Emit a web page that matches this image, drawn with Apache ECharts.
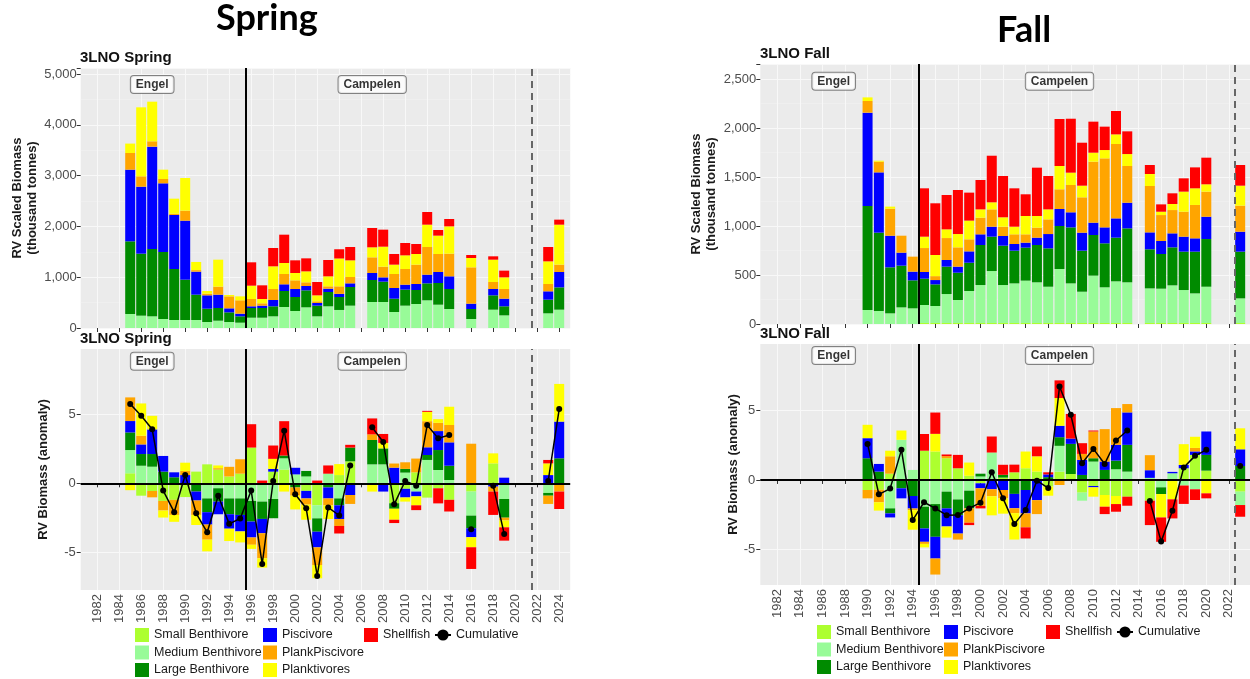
<!DOCTYPE html>
<html>
<head>
<meta charset="utf-8">
<title>3LNO Spring / Fall biomass</title>
<script src="https://cdn.jsdelivr.net/npm/echarts@6/dist/echarts.min.js"></script>
<style>
  html, body { margin: 0; padding: 0; background: #fff; }
  #main { width: 1250px; height: 679px; }
</style>
</head>
<body>
<div id="main"></div>
<script>
// functional groups, in stacking order (from zero outwards)
var groupNames = ['Small Benthivore', 'Medium Benthivore', 'Large Benthivore', 'Piscivore', 'PlankPiscivore', 'Planktivores', 'Shellfish'];
var groupColors = ['#ADFF2F', '#98FB98', '#008B00', '#0000FF', '#FFA500', '#FFFF00', '#FF0000'];
var yearTicks = [1982, 1984, 1986, 1988, 1990, 1992, 1994, 1996, 1998, 2000, 2002, 2004, 2006, 2008, 2010, 2012, 2014, 2016, 2018, 2020, 2022, 2024];
var anomalyTicks = [-5, 0, 5];

// ---- Spring ----
var springYears = [1985, 1986, 1987, 1988, 1989, 1990, 1991, 1992, 1993, 1994, 1995, 1996, 1997, 1998, 1999, 2000, 2001, 2002, 2003, 2004, 2005,
    2007, 2008, 2009, 2010, 2011, 2012, 2013, 2014, 2016, 2018, 2019, 2023, 2024];

// RV scaled biomass (thousand tonnes)
var springSmall = [0, 0, 0, 0, 0, 0, 0, 0, 0, 0, 0, 0, 0, 0, 0, 0, 0, 0, 0, 0, 0, 0, 0, 0, 0, 0, 0, 0, 0, 0, 0, 0, 0, 0];
var springMedium = [276, 243, 230, 177, 157, 157, 157, 118, 144, 118, 105, 203, 203, 230, 413, 335, 407, 230, 427, 355, 440,
    512, 512, 315, 440, 472, 545, 459, 374, 177, 361, 249, 289, 361];
var springLarge = [1430, 1220, 1325, 1319, 1004, 794, 499, 262, 250, 190, 125, 191, 191, 197, 315, 275, 334, 210, 282, 255, 367,
    433, 400, 262, 315, 276, 334, 427, 394, 197, 282, 178, 269, 439];
var springPisc = [1411, 1319, 2015, 1352, 1063, 1162, 453, 263, 262, 79, 52, 33, 46, 124, 132, 158, 86, 52, 65, 62, 72,
    138, 85, 210, 98, 118, 171, 216, 249, 105, 125, 150, 164, 302];
var springPlankPisc = [328, 204, 105, 85, 26, 197, 31, 33, 158, 236, 263, 144, 46, 217, 203, 170, 72, 33, 46, 148, 125,
    308, 210, 276, 308, 381, 544, 355, 446, 715, 138, 191, 144, 145];
var springPlank = [185, 1358, 780, 184, 296, 643, 160, 52, 531, 27, 78, 262, 85, 446, 217, 145, 216, 118, 197, 548, 328,
    197, 394, 184, 269, 210, 440, 361, 538, 184, 439, 229, 446, 787];
var springShell = [0, 0, 0, 0, 0, 0, 0, 0, 0, 0, 0, 460, 269, 361, 557, 249, 256, 263, 322, 182, 262,
    381, 335, 210, 243, 197, 249, 111, 145, 59, 66, 132, 282, 99];

// RV biomass anomaly
var springAnomSmall = [0.73, -0.9, -0.56, -1.28, -1.2, -1.0, 0.85, 1.38, 1.0, 0.5, 0.7, 2.6, 0, 0.85, 1.0, 0, -0.55, -1.6, 0, 0.6, 1.6,
    0, 0, -1.45, -0.4, 0.8, -1.04, -0.36, -1.2, -0.6, 1.45, 0, 0, 0];
var springAnomMedium = [1.69, 1.28, 1.21, 0, 0, 0, 0, -1.1, -0.36, -1.1, -1.1, -1.28, -1.33, -1.14, 0.82, 0.65, 0.5, -0.95, 0.7, -1.1, 0,
    1.38, 1.38, 0, 0.78, -0.6, 1.7, 0.97, 0.24, -1.75, 0, -1.14, -0.7, 0];
var springAnomLarge = [1.28, 0.85, 0.92, 0.85, 0.44, 0, -0.6, -1.0, -0.97, -1.15, -1.2, -1.5, -1.26, -1.4, 0.2, -0.3, 0.4, -0.97, -0.3, -0.5, 1.0,
    1.77, 1.16, -0.4, 0.27, 0, 0.36, 1.45, 1.04, -0.92, 0, -1.36, -0.2, 1.82];
var springAnomPisc = [0.83, 0.7, 1.79, 1.14, 0.36, 0.6, -0.65, -0.9, -0.92, -1.05, -1.2, -1.16, -1.04, 0.2, 0, 0.48, -0.55, -1.14, -0.8, -1.0, -0.85,
    0, -0.6, 1.14, -0.63, -0.35, 0.56, 1.38, 1.7, -0.65, -0.24, 0.41, 0.6, 2.67];
var springAnomPlankPisc = [1.72, 0.63, -0.46, -0.7, -1.1, 0.3, -1.05, -1.1, 0.1, 0.7, 1.05, -0.53, -1.82, 0, 0, -0.6, -0.45, -1.28, -0.5, -0.5, -0.65,
    0.41, 0, 0.3, 0.48, 1.0, 1.9, 0.6, 1.26, 2.88, -0.36, -0.2, -0.6, -0.6];
var springAnomPlank = [-0.5, 2.35, 0.99, -0.51, -0.5, 0.6, -0.73, -0.85, 0.2, -0.9, -0.8, -0.3, -0.68, 0.73, -0.6, -1.0, -1.1, -0.97, -1.0, 0.8, 0,
    -0.6, 0.4, -0.8, -0.3, -0.65, 0.68, 0.27, 1.33, -0.73, 0.73, -0.5, 0.85, 2.74];
var springAnomShell = [0, 0, 0, 0, 0, 0, 0, 0, 0, 0, 0, 1.7, 0.2, 0.97, 2.5, 0, 0, 0.2, 0.6, -0.55, 0.2,
    1.16, 0.65, -0.24, 0, -0.35, 0.07, -1.1, -0.85, -1.58, -1.7, -0.97, 0.25, -1.27];
var springCum = [5.77, 4.92, 3.93, -0.53, -2.1, 0.6, -2.18, -3.56, -0.9, -2.95, -2.56, -0.53, -5.87, 0.17, 3.83, -0.8, -1.82, -6.74, -1.75, -2.34, 1.3,
    4.07, 3.0, -1.53, 0.17, -0.17, 4.24, 3.27, 3.52, -3.35, -0.17, -3.68, 0.17, 5.4];

// ---- Fall ----
var fallYears = [1990, 1991, 1992, 1993, 1994, 1995, 1996, 1997, 1998, 1999, 2000, 2001, 2002, 2003, 2004, 2005, 2006, 2007, 2008, 2009, 2010, 2011, 2012, 2013,
    2015, 2016, 2017, 2018, 2019, 2020, 2023];

var fallSmall = [0, 0, 0, 0, 0, 10, 10, 10, 10, 10, 10, 10, 10, 10, 10, 10, 10, 10, 10, 10, 10, 10, 10, 10,
    10, 10, 10, 10, 10, 10, 10];
var fallMedium = [143, 133, 109, 170, 160, 184, 174, 296, 235, 327, 388, 531, 388, 405, 433, 416, 371, 552, 405, 320, 484, 365, 426, 416,
    354, 351, 385, 337, 303, 371, 252];
var fallLarge = [1062, 800, 470, 426, 286, 269, 221, 280, 279, 289, 409, 351, 402, 334, 337, 381, 392, 439, 572, 419, 415, 449, 446, 551,
    399, 354, 388, 392, 426, 487, 477];
var fallPisc = [954, 616, 323, 133, 89, 68, 44, 68, 62, 116, 109, 102, 99, 68, 51, 75, 146, 174, 154, 184, 126, 163, 197, 262,
    173, 133, 143, 153, 136, 228, 204];
var fallPlankPisc = [119, 109, 276, 173, 153, 245, 40, 224, 197, 123, 170, 177, 95, 99, 85, 102, 150, 201, 279, 361, 623, 705, 760, 375,
    474, 265, 238, 255, 341, 256, 266];
var fallPlank = [37, 10, 21, 0, 0, 116, 216, 89, 136, 191, 85, 72, 96, 78, 187, 119, 102, 238, 126, 119, 92, 85, 98, 122,
    122, 34, 62, 205, 170, 75, 204];
var fallShell = [0, 0, 0, 0, 0, 494, 528, 351, 450, 286, 300, 476, 422, 392, 222, 494, 341, 480, 551, 439, 317, 239, 239, 232,
    92, 75, 109, 136, 214, 272, 211];

var fallAnomSmall = [-0.72, -0.7, 0.45, 0, 0, 2.1, 2.04, 1.56, 0.84, 0.3, -0.24, 0, 0.17, 0.55, 0.84, 0.6, -0.48, 0.6, 0.43, -0.91, -0.43, -1.08, -1.15, -1.2,
    -1.49, 0, 0, 0.84, 1.8, 0.67, -0.84];
var fallAnomMedium = [0, 0, -2.04, 2.88, 0.72, -1.92, -1.73, -0.84, -1.4, -0.77, 0.25, 1.97, 0, 0, 0, 0, 0, 1.85, 0, -0.58, 1.32, 0, 0.77, 0.6,
    0.15, -0.53, 0.48, -0.4, -0.67, 0, -0.96];
var fallAnomLarge = [1.56, 0.6, -0.36, -0.6, -1.15, -1.56, -2.35, -1.2, -1.13, -1.27, 0.2, 0, 0.2, -1.0, -0.72, 0, 0.2, 0.62, 2.16, 0.36, 0.24, 0.72, 0.62, 1.92,
    0, -0.48, 0, 0, 0, 1.13, 1.0];
var fallAnomPisc = [1.44, 0.55, -0.29, -0.72, -0.9, -0.96, -1.56, -1.3, -1.32, 0, -0.36, -0.67, -0.72, -1.03, -1.68, -1.45, 0.2, 0.82, 0.38, 1.08, -0.1, 0.6, 1.13, 2.33,
    0.55, 0, 0.1, 0.24, 0.25, 1.68, 1.2];
var fallAnomPlankPisc = [-0.6, -0.9, 1.25, 0, -0.12, -0.15, -1.15, 0.15, -0.43, -1.03, -1.27, -0.5, -0.6, -0.35, -1.0, -1.0, 0, -0.36, 0, 0.43, 1.92, 2.33, 2.64, 0.6,
    1.08, 0, 0, 0, 0.25, 0, 0];
var fallAnomPlank = [0.96, -0.6, 0.4, 0.67, -1.4, -0.25, 1.27, -0.8, 0, 0.95, 0, -1.37, -1.1, -1.9, 1.2, 1.1, -0.65, 1.99, 0, 0, -0.67, -0.84, -0.58, 0,
    0, -1.68, -1.39, 1.49, 0.8, -0.96, 1.51];
var fallAnomShell = [0, 0, 0, 0, 0, 1.2, 1.53, 0.12, 0.96, -0.17, -0.17, 1.15, 0.72, 0.55, -0.8, 0.7, 0.15, 1.27, 1.77, 0.77, 0.07, -0.53, -0.55, -0.65,
    -1.75, -1.75, -1.37, -1.32, -0.77, -0.36, -0.84];
var fallCum = [2.59, -1.03, -0.62, 2.16, -2.88, -1.6, -2.04, -2.53, -2.52, -2.04, -1.63, 0.55, -1.32, -3.17, -2.16, -0.05, -0.58, 6.71, 4.68, 1.2, 2.23, 1.15, 2.83, 3.55,
    -1.51, -4.41, -2.21, 0.89, 1.73, 2.16, 1.0];

var FONT = '"Liberation Sans", Arial, sans-serif';

// rows are [value, year] so the value is the dimension that gets stacked
function rows(years, vals) {
    return years.map(function (y, i) { return [vals[i], y]; });
}

// line breaks where survey years are missing
function cumData(years, vals) {
    var out = [];
    years.forEach(function (y, i) {
        if (i > 0 && y - years[i - 1] > 1) out.push([y - 1, '-']);
        out.push([y, vals[i]]);
    });
    return out;
}

function barSeries(gi, years, groups) {
    return groups.map(function (vals, k) {
        return {
            name: groupNames[k], type: 'bar', stack: 'g' + gi,
            xAxisIndex: gi, yAxisIndex: gi, barWidth: 10,
            encode: {x: 1, y: 0},
            itemStyle: {color: groupColors[k]},
            data: rows(years, vals)
        };
    });
}

// Engel / Campelen boxes and the gear-change lines
function annotSeries(gi, labelY, solidX, dashX, zeroLine) {
    var lines = [
        {xAxis: solidX, lineStyle: {color: '#000', width: 2, type: 'solid'}},
        {xAxis: dashX, lineStyle: {color: '#666', width: 2, type: [7, 5]}}
    ];
    if (zeroLine) lines.push({yAxis: 0, lineStyle: {color: '#000', width: 2, type: 'solid'}});
    return {
        type: 'scatter', xAxisIndex: gi, yAxisIndex: gi, z: 6,
        symbol: 'rect', symbolSize: 1, itemStyle: {color: 'rgba(0,0,0,0)'},
        data: [[1987, labelY, 'Engel'], [2007, labelY, 'Campelen']],
        label: {
            show: true, position: 'inside',
            formatter: function (p) { return p.value[2]; },
            fontFamily: FONT, fontSize: 12, fontWeight: 'bold', color: '#000',
            backgroundColor: '#fff', borderColor: '#666', borderWidth: 1, borderRadius: 3,
            padding: [3, 5, 2, 5]
        },
        markLine: {silent: true, symbol: 'none', label: {show: false}, data: lines}
    };
}

function cumSeries(gi, years, vals) {
    return {
        name: 'Cumulative', type: 'line', xAxisIndex: gi, yAxisIndex: gi, z: 8,
        symbol: 'circle', symbolSize: 6, connectNulls: false,
        itemStyle: {color: '#000'}, lineStyle: {color: '#000', width: 1.5},
        data: cumData(years, vals)
    };
}

// the fall panels run past the right edge of the picture, so their axis stops early
function xAxisFor(gi, showLabels, maxYear) {
    return {
        type: 'value', gridIndex: gi, min: 1980.5, max: maxYear,
        axisLine: {show: false},
        axisTick: {show: true, customValues: yearTicks, length: 4, lineStyle: {color: '#333'}},
        axisLabel: {show: showLabels, customValues: yearTicks, rotate: 90, margin: 4,
            fontFamily: FONT, fontSize: 13, color: '#4D4D4D',
            formatter: function (v) { return String(v); }},
        splitLine: {show: true, lineStyle: {color: '#F8F8F8', width: 1}}
    };
}

function thousands(v) {
    return String(v).replace(/\B(?=(\d{3})+(?!\d))/g, ',');
}

function yAxisBiomass(gi, max, interval, nameGap) {
    return {
        type: 'value', gridIndex: gi, min: 0, max: max, interval: interval,
        name: 'RV Scaled Biomass\n(thousand tonnes)', nameLocation: 'middle', nameGap: nameGap,
        nameTextStyle: {fontFamily: FONT, fontSize: 13, fontWeight: 'bold', color: '#1a1a1a', lineHeight: 15},
        axisLine: {show: false},
        axisTick: {show: true, length: 4, lineStyle: {color: '#333'}},
        axisLabel: {margin: 4, fontFamily: FONT, fontSize: 13, color: '#4D4D4D',
            formatter: function (v) { return v % interval === 0 ? thousands(v) : ''; }},
        splitLine: {lineStyle: {color: '#F8F8F8', width: 1}},
        minorTick: {show: false, splitNumber: 2},
        minorSplitLine: {show: true, lineStyle: {color: '#F2F2F2', width: 0.6}}
    };
}

function yAxisAnomaly(gi, min, max, nameGap) {
    return {
        type: 'value', gridIndex: gi, min: min, max: max,
        name: 'RV Biomass (anomaly)', nameLocation: 'middle', nameGap: nameGap,
        nameTextStyle: {fontFamily: FONT, fontSize: 13, fontWeight: 'bold', color: '#1a1a1a'},
        axisLine: {show: false},
        axisTick: {show: true, customValues: anomalyTicks, length: 4, lineStyle: {color: '#333'}},
        axisLabel: {customValues: anomalyTicks, margin: 5, fontFamily: FONT, fontSize: 13, color: '#4D4D4D'},
        splitLine: {lineStyle: {color: '#F8F8F8', width: 1}}
    };
}

function legendCol(names, left, top, icon) {
    return {
        orient: 'vertical', left: left, top: top, padding: 0,
        itemWidth: icon === 'line' ? 16 : 14, itemHeight: 14, itemGap: 3.5,
        selectedMode: false, icon: icon === 'line' ? undefined : 'rect',
        textStyle: {fontFamily: FONT, fontSize: 12.5, color: '#1a1a1a', lineHeight: 14},
        data: names
    };
}

function subTitle(text, left, top) {
    return {text: text, left: left, top: top, padding: 0,
        textStyle: {fontFamily: FONT, fontSize: 15, fontWeight: 'bold', color: '#111'}};
}

var gridBase = {show: true, backgroundColor: '#EBEBEB', borderWidth: 0};

var myChart = echarts.init(document.getElementById('main'), null, {renderer: 'canvas'});

var series = []
    .concat(barSeries(0, springYears, [springSmall, springMedium, springLarge, springPisc, springPlankPisc, springPlank, springShell]))
    .concat(barSeries(1, springYears, [springAnomSmall, springAnomMedium, springAnomLarge, springAnomPisc, springAnomPlankPisc, springAnomPlank, springAnomShell]))
    .concat(barSeries(2, fallYears, [fallSmall, fallMedium, fallLarge, fallPisc, fallPlankPisc, fallPlank, fallShell]))
    .concat(barSeries(3, fallYears, [fallAnomSmall, fallAnomMedium, fallAnomLarge, fallAnomPisc, fallAnomPlankPisc, fallAnomPlank, fallAnomShell]));
series.push(annotSeries(0, 4795, 1995.5, 2021.5, false));
series.push(annotSeries(1, 8.88, 1995.5, 2021.5, true));
series.push(annotSeries(2, 2480, 1994.5, 2022.5, false));
series.push(annotSeries(3, 8.94, 1994.5, 2022.5, true));
series.push(cumSeries(1, springYears, springCum));
series.push(cumSeries(3, fallYears, fallCum));

var option = {
    animation: false,
    backgroundColor: '#fff',
    title: [
        {text: 'Spring', left: 216, top: 0, padding: 0,
            textStyle: {fontFamily: 'Lato, ' + FONT, fontSize: 36, fontWeight: 'bold', color: '#000'}},
        {text: 'Fall', left: 997, top: 12, padding: 0,
            textStyle: {fontFamily: 'Lato, ' + FONT, fontSize: 36, fontWeight: 'bold', color: '#000'}},
        subTitle('3LNO Spring', 80, 50),
        subTitle('3LNO Spring', 80, 331),
        subTitle('3LNO Fall', 760, 46),
        subTitle('3LNO Fall', 760, 326)
    ],
    grid: [
        Object.assign({left: 80.7, top: 68, width: 489.5, height: 260}, gridBase),
        Object.assign({left: 80.7, top: 349, width: 489.5, height: 241}, gridBase),
        Object.assign({left: 760.3, top: 64, right: 0, height: 260}, gridBase),
        Object.assign({left: 760.3, top: 344, right: 0, height: 241}, gridBase)
    ],
    xAxis: [xAxisFor(0, false, 2025), xAxisFor(1, true, 2025), xAxisFor(2, false, 2023.87), xAxisFor(3, true, 2023.87)],
    yAxis: [
        yAxisBiomass(0, 5118, 1000, 40),
        yAxisAnomaly(1, -7.76, 9.77, 31),
        yAxisBiomass(2, 2656, 500, 41),
        yAxisAnomaly(3, -7.54, 9.76, 15)
    ],
    legend: [
        legendCol(['Small Benthivore', 'Medium Benthivore', 'Large Benthivore'], 135, 628),
        legendCol(['Piscivore', 'PlankPiscivore', 'Planktivores'], 263, 628),
        legendCol(['Shellfish'], 364, 628),
        legendCol(['Cumulative'], 434, 628, 'line'),
        legendCol(['Small Benthivore', 'Medium Benthivore', 'Large Benthivore'], 817, 625),
        legendCol(['Piscivore', 'PlankPiscivore', 'Planktivores'], 944, 625),
        legendCol(['Shellfish'], 1046, 625),
        legendCol(['Cumulative'], 1116, 625, 'line')
    ],
    series: series
};

myChart.setOption(option);
</script>
</body>
</html>
